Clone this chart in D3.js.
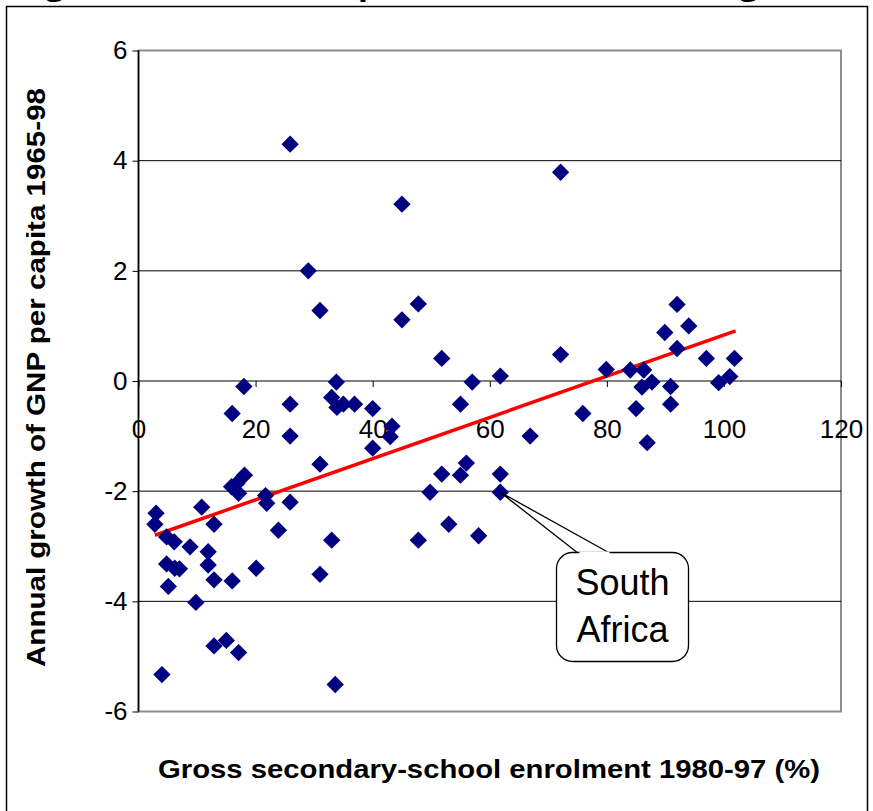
<!DOCTYPE html>
<html>
<head>
<meta charset="utf-8">
<script src="https://cdnjs.cloudflare.com/ajax/libs/d3/7.8.5/d3.min.js"></script>
<style>
  body { margin: 0; background: #fff; }
  svg { display: block; font-family: "Liberation Sans", Arial, sans-serif; }
</style>
</head>
<body>
<svg width="873" height="811"></svg>
<script>
// enrolment (%) per country
const enrolment = [
  25.9, 29.0, 31.0, 18.0, 33.8, 25.9, 33.0, 33.9, 35.0, 36.9,
  40.0, 16.0, 45.0, 72.1, 45.0, 47.8, 51.8, 57.0, 61.8, 72.1,
  79.9, 55.0, 75.9, 92.0, 89.9, 94.0, 92.0, 97.0, 101.8, 84.0,
  86.3, 86.0, 87.7, 90.9, 99.1, 101.0, 85.0, 90.9, 86.9, 25.9,
  40.0, 31.0, 18.1, 16.8, 15.9, 17.1, 21.7, 21.9, 25.9, 3.0,
  2.8, 10.8, 12.9, 23.9, 4.8, 6.1, 8.8, 11.9, 11.9, 4.8,
  6.2, 7.0, 5.1, 12.9, 16.0, 20.1, 31.0, 33.0, 9.8, 12.9,
  15.0, 17.1, 4.0, 33.6, 43.3, 43.0, 66.9, 51.8, 55.0, 56.0,
  61.8, 49.8, 61.8, 53.0, 47.8, 58.1
];
// annual GNP per capita growth 1965-98 (%)
const growth = [
  4.30, 2.00, 1.28, -0.10, -0.02, -0.42, -0.30, -0.48, -0.42, -0.42,
  -0.50, -0.59, 3.21, 3.79, 1.11, 1.40, 0.41, -0.02, 0.09, 0.48,
  0.21, -0.42, -0.59, 1.39, 0.88, 1.00, 0.59, 0.41, 0.41, 0.20,
  0.20, -0.11, -0.02, -0.10, -0.03, 0.08, -0.50, -0.42, -1.12, -1.00,
  -1.22, -1.51, -1.71, -1.86, -1.92, -2.04, -2.08, -2.22, -2.20, -2.40,
  -2.60, -2.29, -2.60, -2.71, -2.83, -2.92, -3.01, -3.10, -3.34, -3.32,
  -3.40, -3.41, -3.73, -3.61, -3.63, -3.40, -3.51, -2.89, -4.02, -4.81,
  -4.71, -4.93, -5.33, -5.51, -0.82, -1.01, -1.00, -1.69, -1.71, -1.49,
  -1.69, -2.02, -2.02, -2.60, -2.89, -2.81
];
// linear trend end points
const trendX = [2.8, 102];
const trendY = [-2.80, 0.91];

const xTicks = [0, 20, 40, 60, 80, 100, 120];
const yTicks = [-6, -4, -2, 0, 2, 4, 6];
const gridY = [-4, -2, 2, 4];

const calloutIndex = 82; // South Africa
const calloutLines = ["South", "Africa"];

const titleText = "Figure 6: School output and the economic growth";
const xTitle = "Gross secondary-school enrolment 1980-97 (%)";
const yTitle = "Annual growth of GNP per capita 1965-98";

const svg = d3.select("svg");

// outer frame
svg.append("rect")
  .attr("x", 6.5).attr("y", 6.5)
  .attr("width", 861).attr("height", 820)
  .attr("fill", "none").attr("stroke", "#000").attr("stroke-width", 1.5);

// title, cut off at the top of the picture (only the descenders show)
svg.append("text")
  .attr("x", 12).attr("y", -3)
  .attr("textLength", 845).attr("lengthAdjust", "spacingAndGlyphs")
  .style("font-size", "24px").style("font-weight", "bold")
  .text(titleText);

const x = d3.scaleLinear().domain([0, 120]).range([138.5, 841]);
const y = d3.scaleLinear().domain([-6, 6]).range([711.5, 50.5]);

// plot border
svg.append("rect")
  .attr("x", x(0)).attr("y", y(6))
  .attr("width", x(120) - x(0)).attr("height", y(-6) - y(6))
  .attr("fill", "none").attr("stroke", "#8c8c8c").attr("stroke-width", 2);

// gridlines
svg.append("g").selectAll("line")
  .data(gridY)
  .enter().append("line")
    .attr("x1", x(0)).attr("x2", x(120))
    .attr("y1", d => y(d)).attr("y2", d => y(d))
    .attr("stroke", "#000").attr("stroke-width", 1);

// y axis
const yAxis = svg.append("g")
  .attr("transform", `translate(${x(0)},0)`)
  .call(d3.axisLeft(y).tickValues(yTicks).tickSize(6).tickPadding(5).tickFormat(d => String(d)));
yAxis.select(".domain").attr("stroke", "#000").attr("stroke-width", 1.5).attr("d", `M0,${y(6)}V${y(-6)}`);
yAxis.selectAll("text")
  .style("font-size", "26px").style("font-family", "'Liberation Sans', Arial, sans-serif")
  .attr("fill", "#000");

// x axis through zero
const xAxis = svg.append("g")
  .attr("transform", `translate(0,${y(0)})`)
  .call(d3.axisBottom(x).tickValues(xTicks).tickSize(6).tickFormat(d => String(d)));
xAxis.select(".domain").attr("stroke", "#000").attr("d", `M${x(0)},0H${x(120)}`);
xAxis.selectAll("text")
  .attr("y", 57).attr("dy", 0)
  .style("font-size", "26px").style("font-family", "'Liberation Sans', Arial, sans-serif")
  .attr("fill", "#000");

// trend line
svg.append("line")
  .attr("x1", x(trendX[0])).attr("y1", y(trendY[0]))
  .attr("x2", x(trendX[1])).attr("y2", y(trendY[1]))
  .attr("stroke", "#ff0000").attr("stroke-width", 3.5);

// diamonds
const diamond = d3.symbol().type(d3.symbolSquare).size(150);
svg.append("g").selectAll("path")
  .data(enrolment.map((d, i) => ({ x: d, y: growth[i] })))
  .enter().append("path")
    .attr("d", diamond)
    .attr("transform", d => `translate(${x(d.x)},${y(d.y)}) rotate(45)`)
    .attr("fill", "#000080");

// South Africa callout
const px = x(enrolment[calloutIndex]), py = y(growth[calloutIndex]);
const box = { x: 556.5, y: 552.5, w: 132, h: 109, r: 16 };
svg.append("path")
  .attr("d", `M${box.x + 22},${box.y + 1} L${px},${py} L${box.x + 54},${box.y + 1}`)
  .attr("fill", "#fff").attr("stroke", "#000").attr("stroke-width", 1.3);
svg.append("rect")
  .attr("x", box.x).attr("y", box.y)
  .attr("width", box.w).attr("height", box.h)
  .attr("rx", box.r).attr("ry", box.r)
  .attr("fill", "#fff").attr("stroke", "#000").attr("stroke-width", 1.3);
svg.append("rect")
  .attr("x", box.x + 23).attr("y", box.y - 1)
  .attr("width", 30).attr("height", 3)
  .attr("fill", "#fff");
svg.append("text")
  .attr("text-anchor", "middle")
  .style("font-size", "36px")
  .selectAll("tspan")
  .data(calloutLines)
  .enter().append("tspan")
    .attr("x", box.x + box.w / 2)
    .attr("y", (d, i) => box.y + 42 + i * 47)
    .text(d => d);

// axis titles
svg.append("text")
  .attr("x", (158 + 820) / 2).attr("y", 778)
  .attr("text-anchor", "middle")
  .attr("textLength", 662).attr("lengthAdjust", "spacingAndGlyphs")
  .style("font-size", "26px").style("font-weight", "bold")
  .text(xTitle);

svg.append("text")
  .attr("transform", `translate(45,${(88 + 667) / 2}) rotate(-90)`)
  .attr("text-anchor", "middle")
  .attr("textLength", 579).attr("lengthAdjust", "spacingAndGlyphs")
  .style("font-size", "26px").style("font-weight", "bold")
  .text(yTitle);
</script>
</body>
</html>
